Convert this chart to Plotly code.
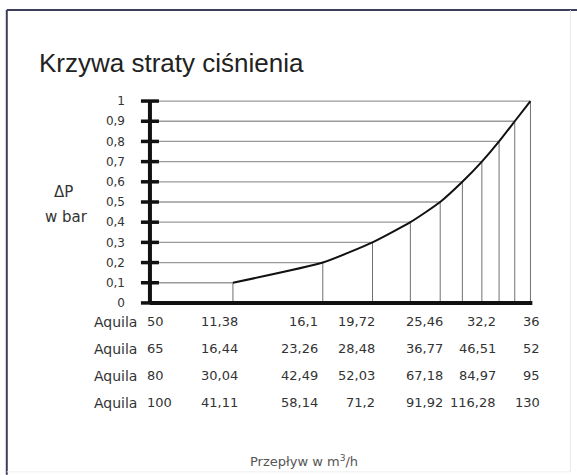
import plotly.graph_objects as go

# ---------------- data ----------------
dp_values = [0.1, 0.2, 0.3, 0.4, 0.5, 0.6, 0.7, 0.8, 0.9, 1.0]          # ΔP in bar at curve points
curve_pos = [21.7, 45.2, 58.2, 68.1, 75.9, 81.7, 86.8, 91.3, 95.4, 99.5]  # horizontal position (relative scale 0-100)
y_tick_vals = [0, 0.1, 0.2, 0.3, 0.4, 0.5, 0.6, 0.7, 0.8, 0.9, 1.0]
y_tick_text = ["0", "0,1", "0,2", "0,3", "0,4", "0,5", "0,6", "0,7", "0,8", "0,9", "1"]
table_dp = [0.1, 0.2, 0.3, 0.5, 0.8, 1.0]     # ΔP of the tabulated columns
models = ["50", "65", "80", "100"]
flow_50 = [11.38, 16.1, 19.72, 25.46, 32.2, 36]
flow_65 = [16.44, 23.26, 28.48, 36.77, 46.51, 52]
flow_80 = [30.04, 42.49, 52.03, 67.18, 84.97, 95]
flow_100 = [41.11, 58.14, 71.2, 91.92, 116.28, 130]
flows = [flow_50, flow_65, flow_80, flow_100]

# ---------------- layout geometry (pixels) ----------------
W, H = 577, 475
X0PX, PX_PER_X = 150.0, 3.82     # x=0 at pixel 150
Y0PX, PX_PER_Y = 303.0, 202.0    # y=0 at pixel 303
XR = [-6, 102]
YR = [-0.03, 1.03]
ml = X0PX + XR[0] * PX_PER_X
pw = (XR[1] - XR[0]) * PX_PER_X
mr = W - ml - pw
mt = Y0PX - YR[1] * PX_PER_Y
ph = (YR[1] - YR[0]) * PX_PER_Y
mb = H - mt - ph

def xd(px):
    return (px - X0PX) / PX_PER_X

def xp(px):
    return (px - ml) / pw

def yp(py):
    return 1 - (py - mt) / ph

FONT = "DejaVu Sans"
TXT = "#333333"
fig = go.Figure()

# horizontal drop lines (y axis -> curve)
hx, hy = [], []
for x, y in zip(curve_pos, dp_values):
    hx += [0, x, None]
    hy += [y, y, None]
fig.add_trace(go.Scatter(x=hx, y=hy, mode="lines", line=dict(color="#9a9a9a", width=1.3),
                         hoverinfo="skip", showlegend=False))
# vertical drop lines (x axis -> curve)
vx, vy = [], []
for x, y in zip(curve_pos, dp_values):
    vx += [x, x, None]
    vy += [0, y, None]
fig.add_trace(go.Scatter(x=vx, y=vy, mode="lines", line=dict(color="#707070", width=1),
                         hoverinfo="skip", showlegend=False))
# curve
fig.add_trace(go.Scatter(x=curve_pos, y=dp_values, mode="lines",
                         line=dict(color="#111111", width=2, shape="spline", smoothing=0.5),
                         hoverinfo="skip", showlegend=False))

shapes = []
# axes
shapes.append(dict(type="line", xref="x", yref="y", x0=0, x1=100, y0=0, y1=0,
                   line=dict(color="#111111", width=4)))
shapes.append(dict(type="line", xref="x", yref="y", x0=0, x1=0, y0=0, y1=1.0,
                   line=dict(color="#111111", width=4)))
# ticks crossing the y axis
for v in y_tick_vals:
    shapes.append(dict(type="line", xref="x", yref="y", x0=xd(141), x1=xd(159), y0=v, y1=v,
                       line=dict(color="#111111", width=3.5)))
# frame
shapes.append(dict(type="line", xref="paper", yref="paper", x0=xp(7), x1=xp(7), y0=yp(10), y1=yp(475),
                   line=dict(color="#3d3d5c", width=2)))
shapes.append(dict(type="line", xref="paper", yref="paper", x0=xp(7), x1=xp(577), y0=yp(10), y1=yp(10),
                   line=dict(color="#3d3d5c", width=2)))
shapes.append(dict(type="line", xref="paper", yref="paper", x0=xp(570), x1=xp(570), y0=yp(10), y1=yp(472),
                   line=dict(color="#e8e8e8", width=1)))
shapes.append(dict(type="line", xref="paper", yref="paper", x0=xp(7), x1=xp(570), y0=yp(472), y1=yp(472),
                   line=dict(color="#eeeeee", width=1)))

annotations = []
# title
annotations.append(dict(text="Krzywa straty ciśnienia", xref="paper", yref="paper",
                        x=xp(37), y=yp(63), xanchor="left", yanchor="middle", showarrow=False,
                        font=dict(family="Liberation Sans, Arial", size=26, color="#222222")))
# y axis title
annotations.append(dict(text="ΔP", xref="paper", yref="paper", x=xp(64), y=yp(192),
                        xanchor="center", yanchor="middle", showarrow=False,
                        font=dict(family=FONT, size=15, color=TXT)))
annotations.append(dict(text="w bar", xref="paper", yref="paper", x=xp(67), y=yp(217),
                        xanchor="center", yanchor="middle", showarrow=False,
                        font=dict(family=FONT, size=15, color=TXT)))
# table
row_py = [322, 349, 376, 403]
col_right_px = [240, 320, 377, 445, 498, 542]
for r, (m, row) in enumerate(zip(models, flows)):
    annotations.append(dict(text="Aquila", xref="paper", yref="paper", x=xp(92), y=yp(row_py[r]),
                            xanchor="left", yanchor="middle", showarrow=False,
                            font=dict(family=FONT, size=14, color=TXT)))
    annotations.append(dict(text=m, xref="paper", yref="paper", x=xp(145), y=yp(row_py[r]),
                            xanchor="left", yanchor="middle", showarrow=False,
                            font=dict(family=FONT, size=13, color=TXT)))
    for c, v in enumerate(row):
        annotations.append(dict(text=f"{v:g}".replace(".", ","), xref="paper", yref="paper",
                                x=xp(col_right_px[c]), y=yp(row_py[r]),
                                xanchor="right", yanchor="middle", showarrow=False,
                                font=dict(family=FONT, size=13, color=TXT)))
# x axis title
annotations.append(dict(text="Przepływ w m<sup>3</sup>/h", xref="paper", yref="paper",
                        x=xp(248), y=yp(461), xanchor="left", yanchor="middle", showarrow=False,
                        font=dict(family=FONT, size=13, color="#555555")))

fig.update_layout(
    width=W, height=H,
    margin=dict(l=ml, r=mr, t=mt, b=mb, pad=0),
    paper_bgcolor="#ffffff", plot_bgcolor="rgba(0,0,0,0)",
    xaxis=dict(range=XR, showgrid=False, zeroline=False, showline=False, showticklabels=False,
               fixedrange=True),
    yaxis=dict(range=YR, showgrid=False, zeroline=False, showline=False,
               tickmode="array", tickvals=y_tick_vals, ticktext=y_tick_text, ticks="",
               ticklabelstandoff=1,
               tickfont=dict(family=FONT, size=12, color=TXT), fixedrange=True),
    shapes=shapes, annotations=annotations, showlegend=False,
)

fig.write_html("out.html", config={"displayModeBar": False},
               post_script="document.body.style.margin='0';")
